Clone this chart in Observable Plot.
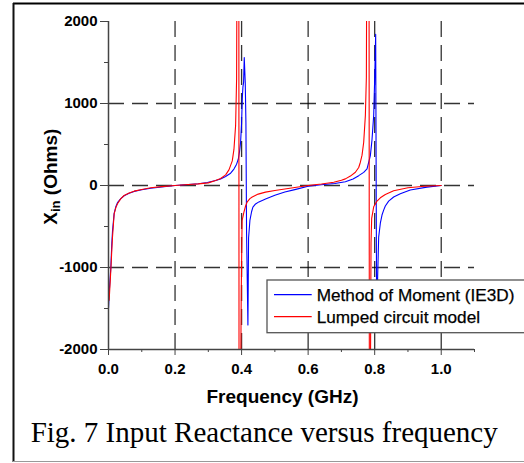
<!DOCTYPE html>
<html>
<head>
<meta charset="utf-8">
<script src="https://cdn.jsdelivr.net/npm/d3@7"></script>
<script src="https://cdn.jsdelivr.net/npm/@observablehq/plot@0.6"></script>
<style>
  html, body { margin: 0; padding: 0; background: #fff; }
  #chart svg { display: block; }
</style>
</head>
<body>
<div id="chart"></div>
<script>
// ---- Data ----
const seriesNames = ["Method of Moment (IE3D)", "Lumped circuit model"];
const seriesColors = ["#0000ff", "#ff0000"];

const freqMoM = [0.000, 0.003, 0.007, 0.010, 0.012, 0.017, 0.022, 0.027, 0.037, 0.047, 0.062, 0.077, 0.100, 0.127, 0.160, 0.200, 0.240, 0.270, 0.297, 0.322, 0.337, 0.352, 0.367, 0.377, 0.385, 0.390, 0.394, 0.397, 0.400, 0.402, 0.404, 0.406, 0.408, 0.411, 0.413, 0.415, 0.419, 0.421, 0.425, 0.430, 0.434, 0.442, 0.452, 0.472, 0.500, 0.530, 0.560, 0.600, 0.640, 0.680, 0.712, 0.735, 0.752, 0.767, 0.777, 0.787, 0.792, 0.797, 0.800, 0.803, 0.806, 0.809, 0.812, 0.817, 0.822, 0.827, 0.832, 0.842, 0.857, 0.877, 0.907, 0.957, 1.000];
const xMoM = [-1500, -1250, -1000, -700, -560, -340, -260, -210, -160, -125, -95, -72, -52, -33, -18, 0, 12, 22, 36, 60, 80, 110, 150, 200, 260, 320, 420, 527, 760, 1054, 1200, 1257, 1561, 1257, 770, -590, -1700, -640, -426, -320, -264, -225, -200, -165, -120, -80, -50, -10, 10, 25, 45, 80, 120, 160, 203, 365, 560, 852, 1300, 1845, -1700, -1100, -630, -460, -360, -300, -250, -190, -140, -100, -55, -20, 0];

const freqLumped = [0.002, 0.004, 0.007, 0.010, 0.012, 0.017, 0.022, 0.027, 0.037, 0.047, 0.062, 0.077, 0.100, 0.127, 0.160, 0.200, 0.240, 0.270, 0.300, 0.322, 0.337, 0.352, 0.362, 0.372, 0.377, 0.382, 0.385, 0.388, 0.391, 0.393, 0.396, 0.399, 0.4015, 0.407, 0.412, 0.417, 0.425, 0.432, 0.450, 0.472, 0.500, 0.550, 0.600, 0.640, 0.677, 0.700, 0.712, 0.727, 0.742, 0.752, 0.757, 0.762, 0.767, 0.772, 0.775, 0.778, 0.782, 0.785, 0.787, 0.789, 0.791, 0.797, 0.807, 0.817, 0.832, 0.857, 0.900, 0.950, 1.000];
const xLumped = [-1400, -1250, -1030, -780, -630, -345, -270, -223, -160, -122, -92, -69, -48, -28, -14, 0, 12, 20, 32, 60, 85, 130, 190, 300, 440, 730, 1300, 5200, 9800, -9000, -3100, -1300, -430, -325, -250, -200, -160, -140, -105, -81, -60, -30, 0, 18, 40, 65, 81, 115, 162, 220, 284, 370, 527, 852, 1317, 5000, 9500, -9000, -2600, -700, -400, -260, -190, -150, -110, -65, -28, -10, 0];

const xMajorTicks = [0.0, 0.2, 0.4, 0.6, 0.8, 1.0];
const xMinorTicks = [0.1, 0.3, 0.5, 0.7, 0.9, 1.1];
const yMajorTicks = [-2000, -1000, 0, 1000, 2000];
const yMinorTicks = [-1500, -500, 500, 1500];
const xGrid = [0.2, 0.4, 0.6, 0.8, 1.0];
const yGrid = [-1000, 0, 1000];

const xLabel = "Frequency (GHz)";
const yLabelMain = "X";
const yLabelSub = "in";
const yLabelRest = " (Ohms)";
const caption = "Fig. 7 Input Reactance versus frequency";

// ---- tables ----
const mom = freqMoM.map((f, i) => ({f, x: xMoM[i]}));
const lumped = freqLumped.map((f, i) => ({f, x: xLumped[i]}));

const W = 524, H = 463;
const gridStyle = {stroke: "#000", strokeWidth: 1.3, strokeDasharray: "16,8", strokeOpacity: 0.8};

const plot = Plot.plot({
  width: W,
  height: H,
  marginLeft: 108,
  marginRight: 50,
  marginTop: 21,
  marginBottom: 114,
  style: {fontFamily: "'Liberation Sans', Arial, sans-serif", fontSize: "15px", fontWeight: "bold", color: "#000", background: "#fff"},
  x: {domain: [0, 1.1]},
  y: {domain: [-2000, 2000]},
  marks: [
    Plot.ruleX(xGrid, gridStyle),
    Plot.ruleY(yGrid, gridStyle),
    Plot.line(mom, {x: "f", y: "x", stroke: seriesColors[0], strokeWidth: 1.1, clip: true}),
    Plot.line(lumped, {x: "f", y: "x", stroke: seriesColors[1], strokeWidth: 1.1, clip: true}),
    Plot.ruleX([0], {stroke: "#444", strokeWidth: 1.5}),
    Plot.ruleY([-2000], {stroke: "#444", strokeWidth: 1.5}),
    Plot.axisX({ticks: xMajorTicks, tickFormat: d3.format(".1f"), tickSize: 6, tickPadding: 8, label: null, stroke: "#444", fontWeight: "bold", fontSize: 15}),
    Plot.axisX({ticks: xMinorTicks, tickFormat: () => "", tickSize: 3, label: null, stroke: "#444"}),
    Plot.axisY({ticks: yMajorTicks, tickFormat: d => String(d), tickSize: 8, tickPadding: 3, label: null, stroke: "#444", fontWeight: "bold", fontSize: 15}),
    Plot.axisY({ticks: yMinorTicks, tickFormat: () => "", tickSize: 4, label: null, stroke: "#444"})
  ]
});

document.getElementById("chart").appendChild(plot);

const svg = d3.select(plot);

// outer frame
svg.append("line").attr("x1", 13).attr("x2", W).attr("y1", 3.5).attr("y2", 3.5).attr("stroke", "#000").attr("stroke-width", 2);
svg.append("line").attr("x1", 13.5).attr("x2", 13.5).attr("y1", 3).attr("y2", 462).attr("stroke", "#111").attr("stroke-width", 2);
svg.append("line").attr("x1", 13).attr("x2", W).attr("y1", 461.5).attr("y2", 461.5).attr("stroke", "#999").attr("stroke-width", 1);

// axis titles
svg.append("text")
  .attr("x", 282.5).attr("y", 403)
  .attr("text-anchor", "middle")
  .style("font-family", "'Liberation Sans', Arial, sans-serif")
  .style("font-weight", "bold").style("font-size", "19px")
  .text(xLabel);

const yl = svg.append("text")
  .attr("transform", "translate(57,176.7) rotate(-90)")
  .attr("text-anchor", "middle")
  .style("font-family", "'Liberation Sans', Arial, sans-serif")
  .style("font-weight", "bold").style("font-size", "19px");
yl.append("tspan").text(yLabelMain);
yl.append("tspan").attr("dy", 3).style("font-size", "13px").text(yLabelSub);
yl.append("tspan").attr("dy", -3).text(yLabelRest);

// legend
const lg = svg.append("g");
lg.append("rect").attr("x", 267).attr("y", 280).attr("width", 270).attr("height", 52.7)
  .attr("fill", "#fff").attr("stroke", "#555").attr("stroke-width", 1.3);
seriesNames.forEach((name, i) => {
  const yy = 294.7 + i * 22;
  lg.append("line").attr("x1", 274).attr("x2", 311.7).attr("y1", yy).attr("y2", yy)
    .attr("stroke", seriesColors[i]).attr("stroke-width", 1.2);
  lg.append("text").attr("x", 316.7).attr("y", yy + 6.2)
    .attr("text-anchor", "start")
    .style("font-family", "'Liberation Sans', Arial, sans-serif")
    .style("font-weight", "normal").style("font-size", "17.2px")
    .style("stroke", "#000").style("stroke-width", 0.25)
    .text(name);
});

// caption
svg.append("text")
  .attr("x", 30.7).attr("y", 441.7)
  .attr("text-anchor", "start")
  .style("font-family", "'Liberation Serif', 'Times New Roman', serif")
  .style("font-weight", "normal").style("font-size", "29px")
  .text(caption);
</script>
</body>
</html>
